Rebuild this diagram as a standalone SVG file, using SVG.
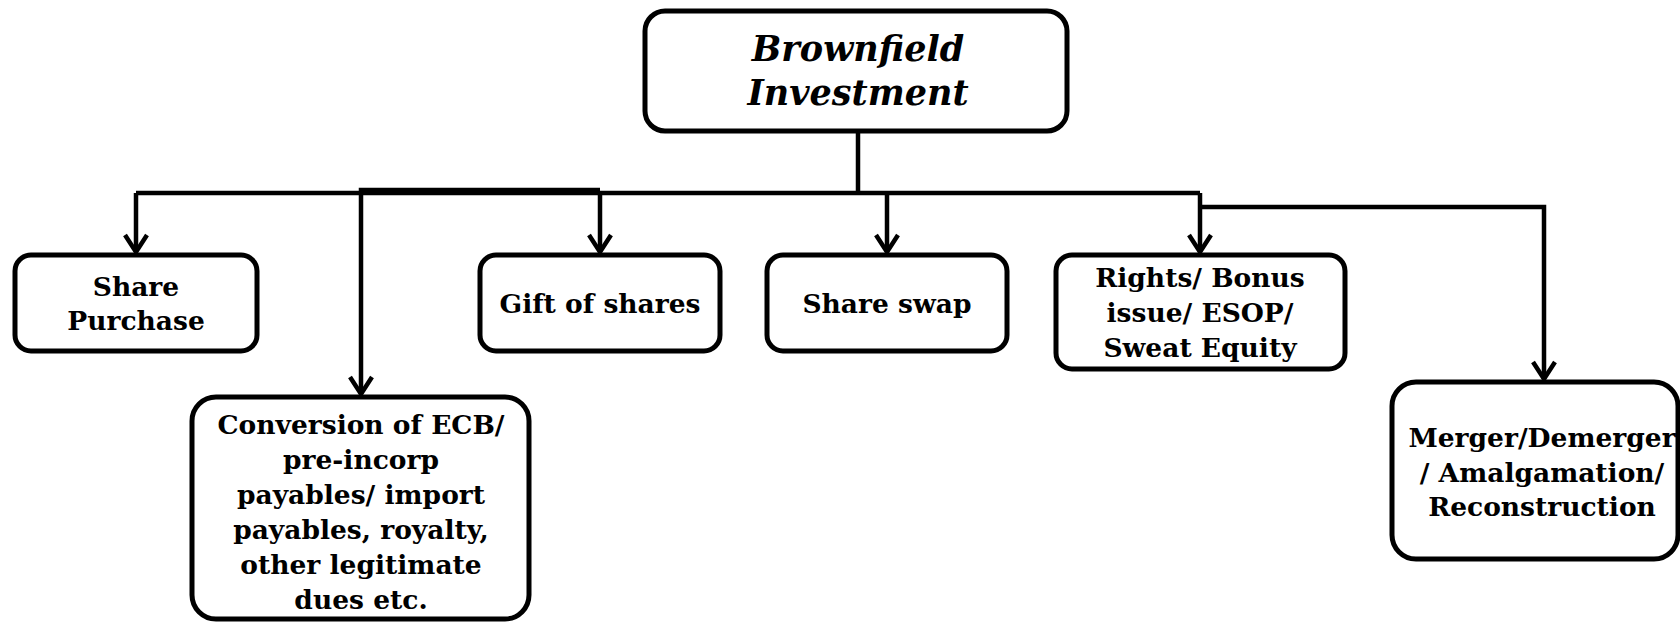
<svg xmlns="http://www.w3.org/2000/svg" width="1680" height="623" viewBox="0 0 1680 623">
<style>
.box{fill:#fff;stroke:#000;stroke-width:5}
.t{font-family:"DejaVu Serif","Liberation Serif",serif;font-weight:bold;font-size:26.5px;text-anchor:middle;fill:#000}
.title{font-family:"DejaVu Serif","Liberation Serif",serif;font-weight:bold;font-style:italic;font-size:35px;text-anchor:middle;fill:#000}
.c{fill:none;stroke:#000;stroke-width:4.5;stroke-linejoin:miter}
</style>
<defs>
<marker id="arr" markerUnits="userSpaceOnUse" viewBox="-22 -14 26 28" refX="0" refY="0" markerWidth="26" markerHeight="28" orient="auto">
<path d="M-17,-11 L0,0 L-17,11" fill="none" stroke="#000" stroke-width="4.5"/>
</marker>
</defs>
<g id="connectors">
<path class="c" d="M858,131 V193"/>
<path class="c" d="M136,193 H1200"/>
<path class="c" d="M136,193 V252" marker-end="url(#arr)"/>
<path class="c" d="M600,193 V252" marker-end="url(#arr)"/>
<path class="c" d="M887,193 V252" marker-end="url(#arr)"/>
<path class="c" d="M1200,193 V252" marker-end="url(#arr)"/>
<path class="c" d="M600,190 H361 V394" marker-end="url(#arr)"/>
<path class="c" d="M1200,207 H1544 V379" marker-end="url(#arr)"/>
</g>
<g id="brownfield">
<rect class="box" x="645" y="11" width="422" height="120" rx="20"/>
<text class="title" x="858" y="61">Brownfield</text>
<text class="title" x="858" y="105">Investment</text>
</g>
<g id="share-purchase">
<rect class="box" x="15" y="255" width="242" height="96" rx="16"/>
<text class="t" x="136" y="296">Share</text>
<text class="t" x="136" y="330">Purchase</text>
</g>
<g id="gift">
<rect class="box" x="480" y="255" width="240" height="96" rx="16"/>
<text class="t" x="600" y="313">Gift of shares</text>
</g>
<g id="swap">
<rect class="box" x="767" y="255" width="240" height="96" rx="16"/>
<text class="t" x="887" y="313">Share swap</text>
</g>
<g id="rights">
<rect class="box" x="1056" y="255" width="289" height="114" rx="16"/>
<text class="t" x="1200" y="287">Rights/ Bonus</text>
<text class="t" x="1200" y="322">issue/ ESOP/</text>
<text class="t" x="1200" y="357">Sweat Equity</text>
</g>
<g id="conversion">
<rect class="box" x="192" y="397" width="337" height="222" rx="24"/>
<text class="t" x="361" y="434">Conversion of ECB/</text>
<text class="t" x="361" y="469">pre-incorp</text>
<text class="t" x="361" y="504">payables/ import</text>
<text class="t" x="361" y="539">payables, royalty,</text>
<text class="t" x="361" y="574">other legitimate</text>
<text class="t" x="361" y="609">dues etc.</text>
</g>
<g id="merger">
<rect class="box" x="1392" y="382" width="286" height="177" rx="24"/>
<text class="t" x="1542" y="447">Merger/Demerger</text>
<text class="t" x="1542" y="482">/ Amalgamation/</text>
<text class="t" x="1542" y="516">Reconstruction</text>
</g>
</svg>
